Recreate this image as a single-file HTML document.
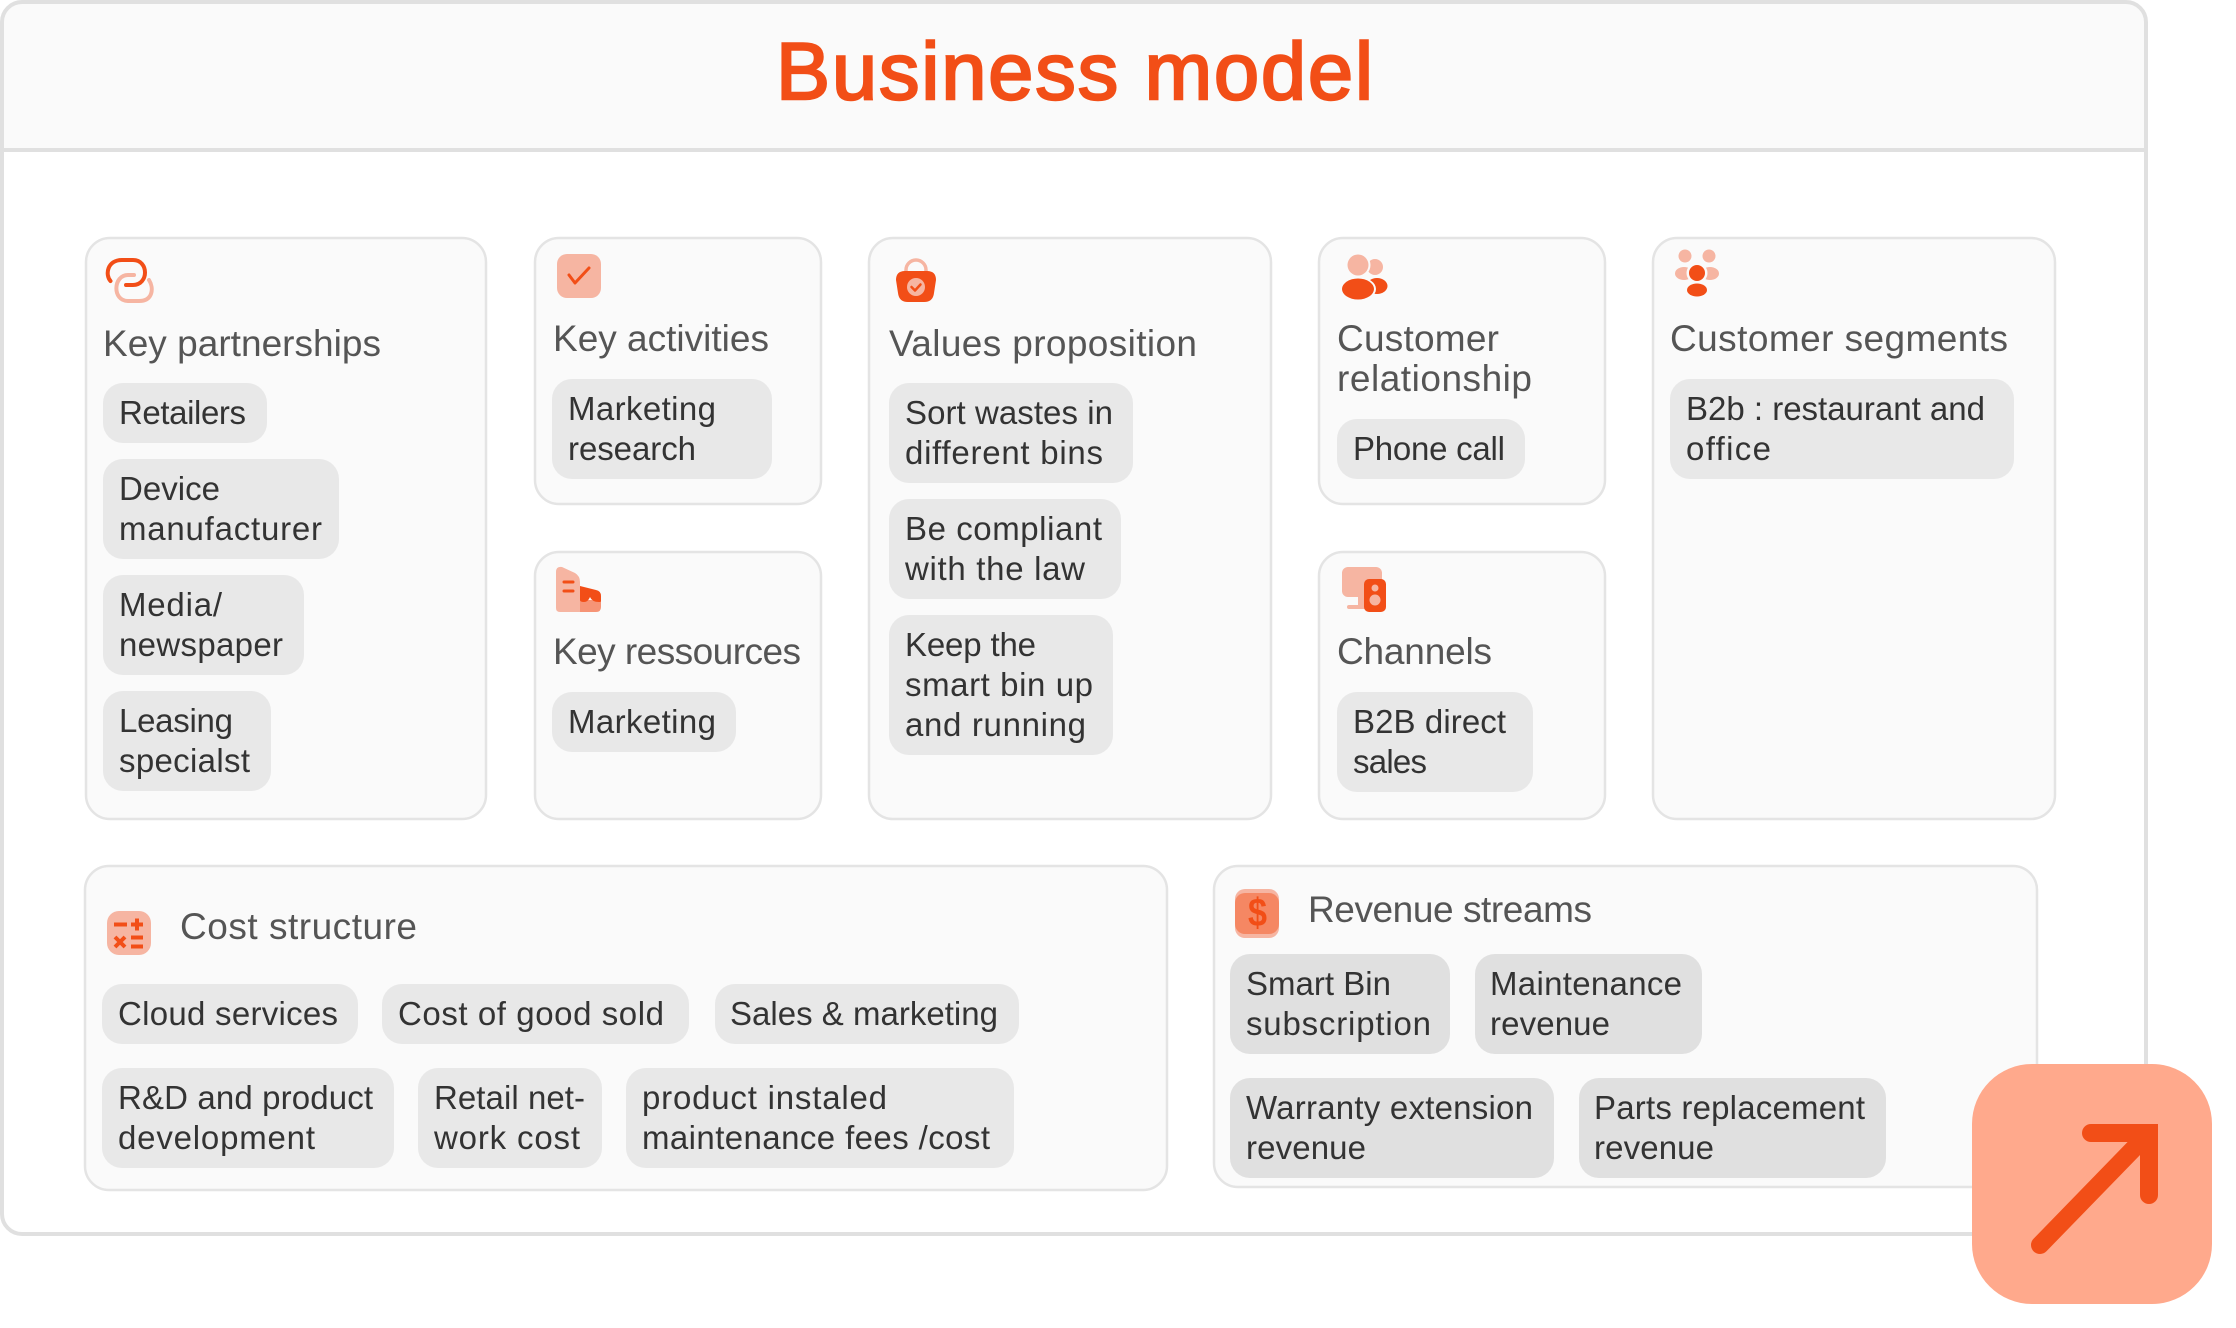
<!DOCTYPE html>
<html><head><meta charset="utf-8"><title>Business model</title>
<style>
html,body{margin:0;padding:0;background:#fff;width:2236px;height:1328px;overflow:hidden}
svg{display:block}
text{font-family:"Liberation Sans",sans-serif}
.c{fill:#fafafa;stroke:#e4e4e4;stroke-width:2.5}
.p{fill:#e8e8e8}
.q{fill:#e0e0e0}
.t{font-size:33px;fill:#333;transform:translate(-1px,1px)}
.h{font-size:37px;fill:#555;transform:translate(-1px,1px)}
</style></head><body>
<svg width="2236" height="1328" viewBox="0 0 2236 1328" xmlns="http://www.w3.org/2000/svg">
<rect width="2236" height="1328" fill="#fff"/>
<!-- outer frame -->
<path d="M2 150V22A20 20 0 0 1 22 2H2126A20 20 0 0 1 2146 22V150Z" fill="#fafafa"/>
<rect x="2" y="2" width="2144" height="1232" rx="20" fill="none" stroke="#e0e0e0" stroke-width="4"/>
<rect x="2" y="148" width="2144" height="4" fill="#e0e0e0"/>
<text x="776" y="99" font-size="81" fill="#f24e17" stroke="#f24e17" stroke-width="2.4" textLength="597">Business model</text>

<!-- cards -->
<rect class="c" x="86" y="238" width="400" height="581" rx="24"/>
<rect class="c" x="535" y="238" width="286" height="266" rx="24"/>
<rect class="c" x="535" y="552" width="286" height="267" rx="24"/>
<rect class="c" x="869" y="238" width="402" height="581" rx="24"/>
<rect class="c" x="1319" y="238" width="286" height="266" rx="24"/>
<rect class="c" x="1319" y="552" width="286" height="267" rx="24"/>
<rect class="c" x="1653" y="238" width="402" height="581" rx="24"/>
<rect class="c" x="85" y="866" width="1082" height="324" rx="24"/>
<rect class="c" x="1214" y="866" width="823" height="321" rx="24"/>

<!-- titles -->
<text class="h" x="104" y="355" textLength="278">Key partnerships</text>
<text class="h" x="554" y="350" textLength="216">Key activities</text>
<text class="h" x="554" y="663" textLength="248">Key ressources</text>
<text class="h" x="890" y="355" textLength="308">Values proposition</text>
<text class="h" x="1338" y="350" textLength="162">Customer</text>
<text class="h" x="1338" y="390" textLength="195">relationship</text>
<text class="h" x="1338" y="663" textLength="155">Channels</text>
<text class="h" x="1671" y="350" textLength="338">Customer segments</text>
<text class="h" x="181" y="938" textLength="237">Cost structure</text>
<text class="h" x="1309" y="921" textLength="284">Revenue streams</text>

<!-- Key partnerships chips -->
<rect class="p" x="103" y="383" width="164" height="60" rx="20"/>
<text class="t" x="120" y="423" textLength="127">Retailers</text>
<rect class="p" x="103" y="459" width="236" height="100" rx="20"/>
<text class="t" x="120" y="499" textLength="101">Device</text>
<text class="t" x="120" y="539" textLength="203">manufacturer</text>
<rect class="p" x="103" y="575" width="201" height="100" rx="20"/>
<text class="t" x="120" y="615" textLength="103">Media/</text>
<text class="t" x="120" y="655" textLength="164">newspaper</text>
<rect class="p" x="103" y="691" width="168" height="100" rx="20"/>
<text class="t" x="120" y="731" textLength="114">Leasing</text>
<text class="t" x="120" y="771" textLength="131">specialst</text>

<!-- Key activities / resources -->
<rect class="p" x="552" y="379" width="220" height="100" rx="20"/>
<text class="t" x="569" y="419" textLength="148">Marketing</text>
<text class="t" x="569" y="459" textLength="128">research</text>
<rect class="p" x="552" y="692" width="184" height="60" rx="20"/>
<text class="t" x="569" y="732" textLength="148">Marketing</text>

<!-- Values proposition -->
<rect class="p" x="889" y="383" width="244" height="100" rx="20"/>
<text class="t" x="906" y="423" textLength="208">Sort wastes in</text>
<text class="t" x="906" y="463" textLength="198">different bins</text>
<rect class="p" x="889" y="499" width="232" height="100" rx="20"/>
<text class="t" x="906" y="539" textLength="197">Be compliant</text>
<text class="t" x="906" y="579" textLength="180">with the law</text>
<rect class="p" x="889" y="615" width="224" height="140" rx="20"/>
<text class="t" x="906" y="655" textLength="131">Keep the</text>
<text class="t" x="906" y="695" textLength="188">smart bin up</text>
<text class="t" x="906" y="735" textLength="181">and running</text>

<!-- Customer relationship / channels -->
<rect class="p" x="1337" y="419" width="188" height="60" rx="20"/>
<text class="t" x="1354" y="459" textLength="152">Phone call</text>
<rect class="p" x="1337" y="692" width="196" height="100" rx="20"/>
<text class="t" x="1354" y="732" textLength="153">B2B direct</text>
<text class="t" x="1354" y="772" textLength="74">sales</text>

<!-- Customer segments -->
<rect class="p" x="1670" y="379" width="344" height="100" rx="20"/>
<text class="t" x="1687" y="419" textLength="299">B2b : restaurant and</text>
<text class="t" x="1687" y="459" textLength="85">office</text>

<!-- Cost structure -->
<rect class="p" x="102" y="984" width="256" height="60" rx="20"/>
<text class="t" x="119" y="1024" textLength="220">Cloud services</text>
<rect class="p" x="382" y="984" width="307" height="60" rx="20"/>
<text class="t" x="399" y="1024" textLength="266">Cost of good sold</text>
<rect class="p" x="715" y="984" width="304" height="60" rx="20"/>
<text class="t" x="731" y="1024" textLength="268">Sales &amp; marketing</text>
<rect class="p" x="102" y="1068" width="292" height="100" rx="20"/>
<text class="t" x="119" y="1108" textLength="255">R&amp;D and product</text>
<text class="t" x="119" y="1148" textLength="197">development</text>
<rect class="p" x="418" y="1068" width="184" height="100" rx="20"/>
<text class="t" x="435" y="1108" textLength="151">Retail net-</text>
<text class="t" x="435" y="1148" textLength="146">work cost</text>
<rect class="p" x="626" y="1068" width="388" height="100" rx="20"/>
<text class="t" x="643" y="1108" textLength="245">product instaled</text>
<text class="t" x="643" y="1148" textLength="348">maintenance fees /cost</text>

<!-- Revenue streams -->
<rect class="q" x="1230" y="954" width="220" height="100" rx="20"/>
<text class="t" x="1247" y="994" textLength="145">Smart Bin</text>
<text class="t" x="1247" y="1034" textLength="185">subscription</text>
<rect class="q" x="1475" y="954" width="227" height="100" rx="20"/>
<text class="t" x="1491" y="994" textLength="192">Maintenance</text>
<text class="t" x="1491" y="1034" textLength="120">revenue</text>
<rect class="q" x="1230" y="1078" width="324" height="100" rx="20"/>
<text class="t" x="1247" y="1118" textLength="287">Warranty extension</text>
<text class="t" x="1247" y="1158" textLength="120">revenue</text>
<rect class="q" x="1579" y="1078" width="307" height="100" rx="20"/>
<text class="t" x="1595" y="1118" textLength="271">Parts replacement</text>
<text class="t" x="1595" y="1158" textLength="120">revenue</text>

<!-- icon: link -->
<path d="M134 275H128C113 275 112 301 128 301H139C153 301 154 288 149 280" fill="none" stroke="#f6b5a2" stroke-width="4" stroke-linecap="round"/>
<path d="M110.5 281C105 275 107 260 122 260H133C149 260 149 285 133 285H126" fill="none" stroke="#f24e17" stroke-width="4" stroke-linecap="round"/>
<!-- icon: check -->
<rect x="557" y="254" width="44" height="44" rx="10" fill="#f6b5a2"/>
<path d="M569 275L575 283L589 268" fill="none" stroke="#f24e17" stroke-width="3" stroke-linecap="round" stroke-linejoin="round"/>
<!-- icon: building -->
<path d="M556 572Q556 566 562 567L575 573Q580 576 580 582V612H560Q556 612 556 608Z" fill="#f6b5a2"/>
<path d="M580 600H601V607Q601 612 596 612H580Z" fill="#f69476"/>
<path d="M580 586L596 590Q601 591 601 596V601Q601 602 599 602Q592 602 590 597Q588 602 584 602Q580 602 580 600Z" fill="#f24e17"/>
<path d="M564 582H573M564 591H573" stroke="#f24e17" stroke-width="3" stroke-linecap="round"/>
<!-- icon: bag -->
<path d="M906 274V270A10 10 0 0 1 926 270V274" fill="none" stroke="#f6b5a2" stroke-width="3.5"/>
<path d="M896 280Q896 271 905 271H927Q936 271 936 280L934 293Q933 302 924 302H908Q899 302 898 293Z" fill="#f24e17"/>
<circle cx="916" cy="287" r="9" fill="#f6b5a2"/>
<path d="M911.500 287L915 290.500L920.500 284.500" fill="none" stroke="#f24e17" stroke-width="2.500" stroke-linecap="round" stroke-linejoin="round"/>
<!-- icon: people -->
<circle cx="1375" cy="267" r="8" fill="#f6b5a2"/>
<circle cx="1358" cy="265" r="12.500" fill="#fafafa"/>
<circle cx="1358" cy="265" r="10.500" fill="#f6b5a2"/>
<ellipse cx="1377" cy="286" rx="10.500" ry="8" fill="#f24e17"/>
<ellipse cx="1358" cy="289" rx="18" ry="12" fill="#fafafa"/>
<ellipse cx="1358" cy="289" rx="16" ry="10.500" fill="#f24e17"/>
<!-- icon: segments -->
<circle cx="1685" cy="256" r="6.500" fill="#f6b5a2"/>
<circle cx="1709" cy="256" r="6.500" fill="#f6b5a2"/>
<ellipse cx="1684" cy="273.500" rx="9" ry="6.500" fill="#f6b5a2"/>
<ellipse cx="1710" cy="273.500" rx="9" ry="6.500" fill="#f6b5a2"/>
<circle cx="1697" cy="273" r="10.500" fill="#fafafa"/>
<circle cx="1697" cy="273" r="8" fill="#f24e17"/>
<ellipse cx="1697" cy="290" rx="10" ry="6.500" fill="#f24e17"/>
<!-- icon: channels -->
<rect x="1342" y="567" width="40" height="30" rx="6" fill="#f6b5a2"/>
<rect x="1358" y="597" width="6" height="9" fill="#f6b5a2"/>
<rect x="1347" y="605" width="20" height="4" rx="2" fill="#f6b5a2"/>
<rect x="1364" y="579" width="22" height="33" rx="5" fill="#f24e17"/>
<circle cx="1375" cy="588" r="3.500" fill="#f6b5a2"/>
<circle cx="1375" cy="600" r="5.500" fill="#f6b5a2"/>
<!-- icon: calculator -->
<rect x="107" y="911" width="44" height="44" rx="12" fill="#f6b5a2"/>
<path d="M114 924.500H127M131 924.500H143M137 918.500V930.500M115 937L125 947M125 937L115 947M131 937.500H143M131 946.500H143" stroke="#f24e17" stroke-width="4" fill="none"/>
<!-- icon: dollar -->
<rect x="1235" y="889" width="44" height="49" rx="10" fill="#f6b5a2"/>
<rect x="1235" y="893" width="44" height="41" rx="10" fill="#f58763"/>
<text x="1248" y="926" font-size="40" font-weight="700" fill="#f24e17" textLength="19" lengthAdjust="spacingAndGlyphs">$</text>

<!-- corner tile -->
<rect x="1972" y="1064" width="240" height="240" rx="60" fill="#ffa98c"/>
<path d="M2040 1245L2145 1137" stroke="#f24e17" stroke-width="18" stroke-linecap="round" fill="none"/>
<path d="M2091 1133H2149V1195" stroke="#f24e17" stroke-width="18" stroke-linecap="round" stroke-linejoin="miter" fill="none"/>
</svg>
</body></html>
